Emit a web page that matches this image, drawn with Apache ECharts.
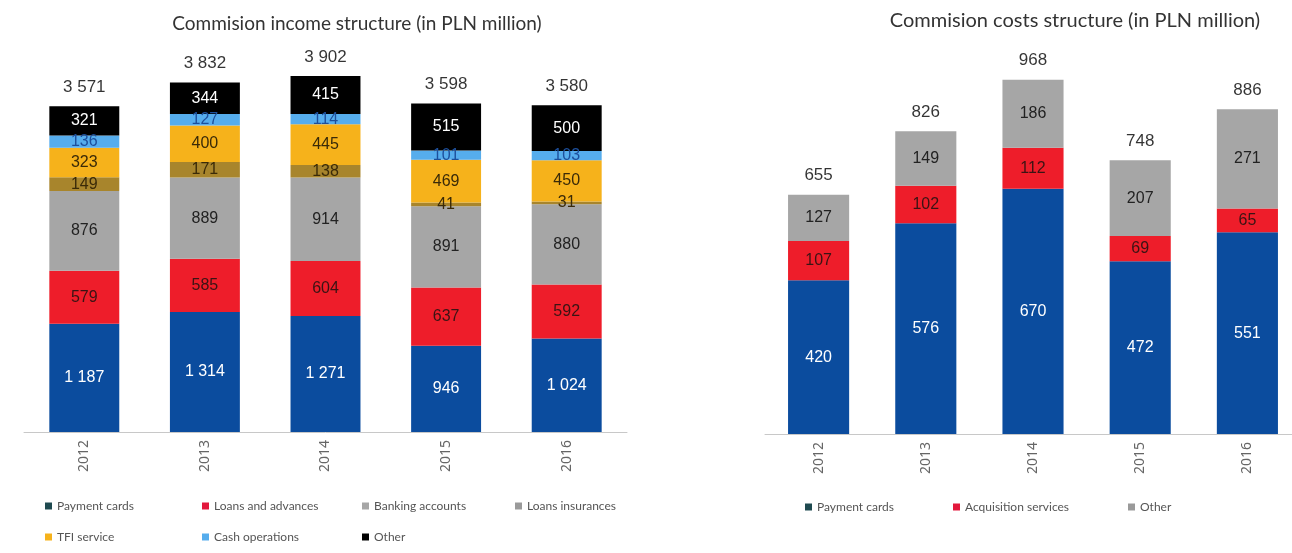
<!DOCTYPE html>
<html>
<head>
<meta charset="utf-8">
<script src="https://cdn.jsdelivr.net/npm/echarts@6/dist/echarts.min.js"></script>
<style>
  html, body { margin: 0; padding: 0; background: #fff; overflow: hidden; }
  /* a bit wider than the window: the right axis runs past the edge in the original */
  #chart { width: 1304px; height: 553px; }
</style>
</head>
<body>
<div id="chart"></div>
<script>
const years = ["2012", "2013", "2014", "2015", "2016"];

// commission income (PLN million), stacked bottom -> top
const incomePayment = [1187, 1314, 1271, 946, 1024];
const incomeLoans = [579, 585, 604, 637, 592];
const incomeBanking = [876, 889, 914, 891, 880];
const incomeInsurance = [149, 171, 138, 41, 31];
const incomeTfi = [323, 400, 445, 469, 450];
const incomeCash = [136, 127, 114, 101, 103];
const incomeOther = [321, 344, 415, 515, 500];
const incomeTotals = [3571, 3832, 3902, 3598, 3580];

// commission costs (PLN million)
const costPayment = [420, 576, 670, 472, 551];
const costAcquisition = [107, 102, 112, 69, 65];
const costOther = [127, 149, 186, 207, 271];
const costTotals = [655, 826, 968, 748, 886];

const BLUE = "#0b4c9e";
const RED = "#ee1d2a";
const GRAY = "#a6a6a6";
const GOLD = "#a8852c";
const ORANGE = "#f6b21b";
const LIGHTBLUE = "#56aded";

const fmt = v => String(v).replace(/\B(?=(\d{3})+(?!\d))/g, " ");
const segFont = "'Liberation Sans Narrow', 'Liberation Sans', sans-serif";

function seg(name, data, color, labelColor, idx, stack) {
  return {
    name: name,
    type: "bar",
    stack: stack,
    xAxisIndex: idx,
    yAxisIndex: idx,
    barWidth: idx === 0 ? "58%" : "57%",
    data: data,
    itemStyle: { color: color },
    label: {
      show: true,
      position: "inside",
      color: labelColor,
      fontFamily: segFont,
      fontSize: 16,
      formatter: p => fmt(p.value)
    },
    emphasis: { disabled: true }
  };
}

// invisible points carrying the total above each bar
function totals(data, idx) {
  return {
    type: "scatter",
    xAxisIndex: idx,
    yAxisIndex: idx,
    data: data,
    symbolSize: 1,
    itemStyle: { color: "rgba(0,0,0,0)" },
    label: {
      show: true,
      position: "top",
      distance: 10,
      color: "#000",
      fontFamily: "'Liberation Sans', Arial, sans-serif",
      fontSize: 17,
      formatter: p => fmt(p.value)
    },
    silent: true
  };
}

function legendItem(name, left, top, iconColor) {
  return {
    data: [iconColor ? { name: name, itemStyle: { color: iconColor } } : name],
    left: left,
    top: top,
    icon: "rect",
    itemWidth: 7,
    itemHeight: 7,
    itemGap: 4,
    padding: 0,
    selectedMode: false,
    textStyle: { color: "#555", fontFamily: "Lato, sans-serif", fontSize: 12 }
  };
}

const chart = echarts.init(document.getElementById("chart"));

const option = {
  animation: false,
  backgroundColor: "#fff",
  title: [
    {
      text: "Commision income structure (in PLN million)",
      left: 352,
      top: 9,
      textAlign: "center",
      textStyle: { color: "#333", fontFamily: "Lato, sans-serif", fontSize: 19, fontWeight: "normal" }
    },
    {
      text: "Commision costs structure (in PLN million)",
      left: 1070,
      top: 6,
      textAlign: "center",
      textStyle: { color: "#333", fontFamily: "Lato, sans-serif", fontSize: 20, fontWeight: "normal" }
    }
  ],
  legend: [
    legendItem("Payment cards", 45, 500, "#1f4a50"),
    legendItem("Loans and advances", 202, 500, "#e3183c"),
    legendItem("Banking accounts", 362, 500, "#a6a6a6"),
    legendItem("Loans insurances", 515, 500, "#9a9a9a"),
    legendItem("TFI service", 45, 531),
    legendItem("Cash operations", 202, 531),
    legendItem("Other", 362, 531),
    legendItem("Payment cards ", 805, 501, "#1f4a50"),
    legendItem("Acquisition services", 953, 501, "#e3183c"),
    legendItem("Other ", 1128, 501, "#9a9a9a")
  ],
  grid: [
    { left: 24, width: 603, top: 67, bottom: 121 },
    { left: 765, width: 536, top: 68, bottom: 119 }
  ],
  xAxis: [0, 1].map(i => ({
    type: "category",
    gridIndex: i,
    data: years,
    axisLine: { lineStyle: { color: "#c8c8c8", width: 1 } },
    axisTick: { show: false },
    axisLabel: {
      rotate: 90,
      margin: 8,
      color: "#666",
      fontFamily: "'Noto Sans', sans-serif",
      fontSize: 14
    }
  })),
  yAxis: [
    { type: "value", gridIndex: 0, min: 0, max: 4000, show: false, splitLine: { show: false } },
    { type: "value", gridIndex: 1, min: 0, max: 1000, show: false, splitLine: { show: false } }
  ],
  series: [
    seg("Payment cards", incomePayment, BLUE, "#ffffff", 0, "inc"),
    seg("Loans and advances", incomeLoans, RED, "#3a1414", 0, "inc"),
    seg("Banking accounts", incomeBanking, GRAY, "#222", 0, "inc"),
    seg("Loans insurances", incomeInsurance, GOLD, "#3a2a08", 0, "inc"),
    seg("TFI service", incomeTfi, ORANGE, "#3a2a08", 0, "inc"),
    seg("Cash operations", incomeCash, LIGHTBLUE, "#1d4f9c", 0, "inc"),
    seg("Other", incomeOther, "#000000", "#ffffff", 0, "inc"),
    totals(incomeTotals, 0),
    seg("Payment cards ", costPayment, BLUE, "#ffffff", 1, "cost"),
    seg("Acquisition services", costAcquisition, RED, "#3a1414", 1, "cost"),
    seg("Other ", costOther, GRAY, "#222", 1, "cost"),
    totals(costTotals, 1)
  ]
};

chart.setOption(option);
</script>
</body>
</html>
